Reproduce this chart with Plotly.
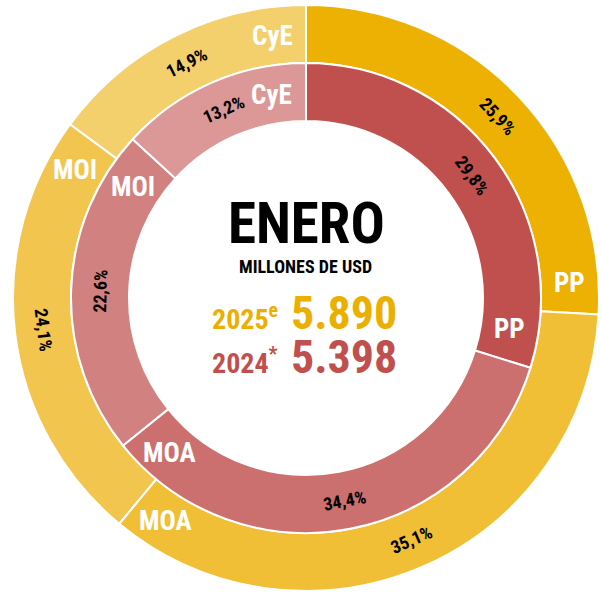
import plotly.graph_objects as go
import math

categories = ["PP", "MOA", "MOI", "CyE"]
values_2025 = [25.9, 35.1, 24.1, 14.9]
values_2024 = [29.8, 34.4, 22.6, 13.2]
colors_2025 = ["#EDB104", "#F0BF36", "#F1C54E", "#F3D06C"]
colors_2024 = ["#C0504E", "#CB706E", "#D18180", "#DB9897"]
title = "ENERO"
subtitle = "MILLONES DE USD"
total_2025 = "5.890"
total_2024 = "5.398"
year_2025 = "2025<sup>e</sup>"
year_2024 = "2024<sup>*</sup>"

W, H = 601, 594
CX, CY = 306, 298          # centre, pixels from top-left
CYB = H - CY
R_OUT, R_MID, R_IN = 293, 235, 177
FONT = "Liberation Sans Narrow, Roboto Condensed, DejaVu Sans Condensed, Arial Narrow, sans-serif"
GOLD = "#EBAF00"
RED = "#C0504D"


def dom(r):
    return dict(x=[(CX - r) / W, (CX + r) / W], y=[(CYB - r) / H, (CYB + r) / H])


fig = go.Figure()
for vals, cols, r, hole in [(values_2025, colors_2025, R_OUT, R_MID / R_OUT),
                            (values_2024, colors_2024, R_MID, R_IN / R_MID)]:
    fig.add_trace(go.Pie(
        labels=categories, values=vals, sort=False, direction="clockwise", rotation=0,
        hole=hole, domain=dom(r),
        marker=dict(colors=cols, line=dict(color="white", width=2)),
        textinfo="none", hoverinfo="skip", showlegend=False,
    ))

ann = []


def to_paper(px, py_top):
    return px / W, (H - py_top) / H


def polar(r, deg):
    th = math.radians(deg)
    return to_paper(CX + r * math.sin(th), CY - r * math.cos(th))


for vals, r_ring, arc_px in [(values_2025, (R_OUT + R_MID) / 2, 30),
                             (values_2024, (R_MID + R_IN) / 2, 31)]:
    cum = 0
    for cat, v in zip(categories, vals):
        start = cum / 100 * 360
        cum += v
        end = cum / 100 * 360
        # category label near the clockwise end of the slice
        delta = math.degrees((arc_px + 4 * (len(cat) - 2)) / r_ring)
        px, py = polar(r_ring, end - delta)
        ann.append(dict(x=px, y=py, xref="paper", yref="paper", text=cat, showarrow=False,
                        xanchor="center", yanchor="middle",
                        font=dict(family=FONT, size=27, color="white", weight="bold")))
        # percentage, tangential at the slice middle
        mid = (start + end) / 2
        ang = mid if mid <= 90 or mid > 270 else mid - 180
        if ang > 180:
            ang -= 360
        px, py = polar(r_ring, mid)
        txt = f"{v:.1f}%".replace(".", ",")
        ann.append(dict(x=px, y=py, xref="paper", yref="paper", text=txt, showarrow=False,
                        xanchor="center", yanchor="middle", textangle=ang,
                        font=dict(family=FONT, size=18, color="black", weight="bold")))

px, py = to_paper(306, 223)
ann.append(dict(x=px, y=py, xref="paper", yref="paper", text=title, showarrow=False,
                xanchor="center", yanchor="middle",
                font=dict(family=FONT, size=57, color="black", weight="bold")))
px, py = to_paper(305, 266)
ann.append(dict(x=px, y=py, xref="paper", yref="paper", text=subtitle, showarrow=False,
                xanchor="center", yanchor="middle",
                font=dict(family=FONT, size=18, color="black", weight="bold")))
for yr, tot, col, yc in [(year_2025, total_2025, GOLD, 313), (year_2024, total_2024, RED, 357)]:
    px, py = to_paper(280, yc + 4)
    ann.append(dict(x=px, y=py, xref="paper", yref="paper", text=yr, showarrow=False,
                    xanchor="right", yanchor="middle",
                    font=dict(family=FONT, size=28, color=col, weight="bold")))
    px, py = to_paper(289, yc)
    ann.append(dict(x=px, y=py, xref="paper", yref="paper", text=tot, showarrow=False,
                    xanchor="left", yanchor="middle",
                    font=dict(family=FONT, size=46, color=col, weight="bold")))

fig.update_layout(
    width=W, height=H, margin=dict(l=0, r=0, t=0, b=0),
    paper_bgcolor="white", plot_bgcolor="white",
    annotations=ann,
)
fig.write_html("out.html", config={"displayModeBar": False},
               post_script="document.body.style.margin='0px';")
